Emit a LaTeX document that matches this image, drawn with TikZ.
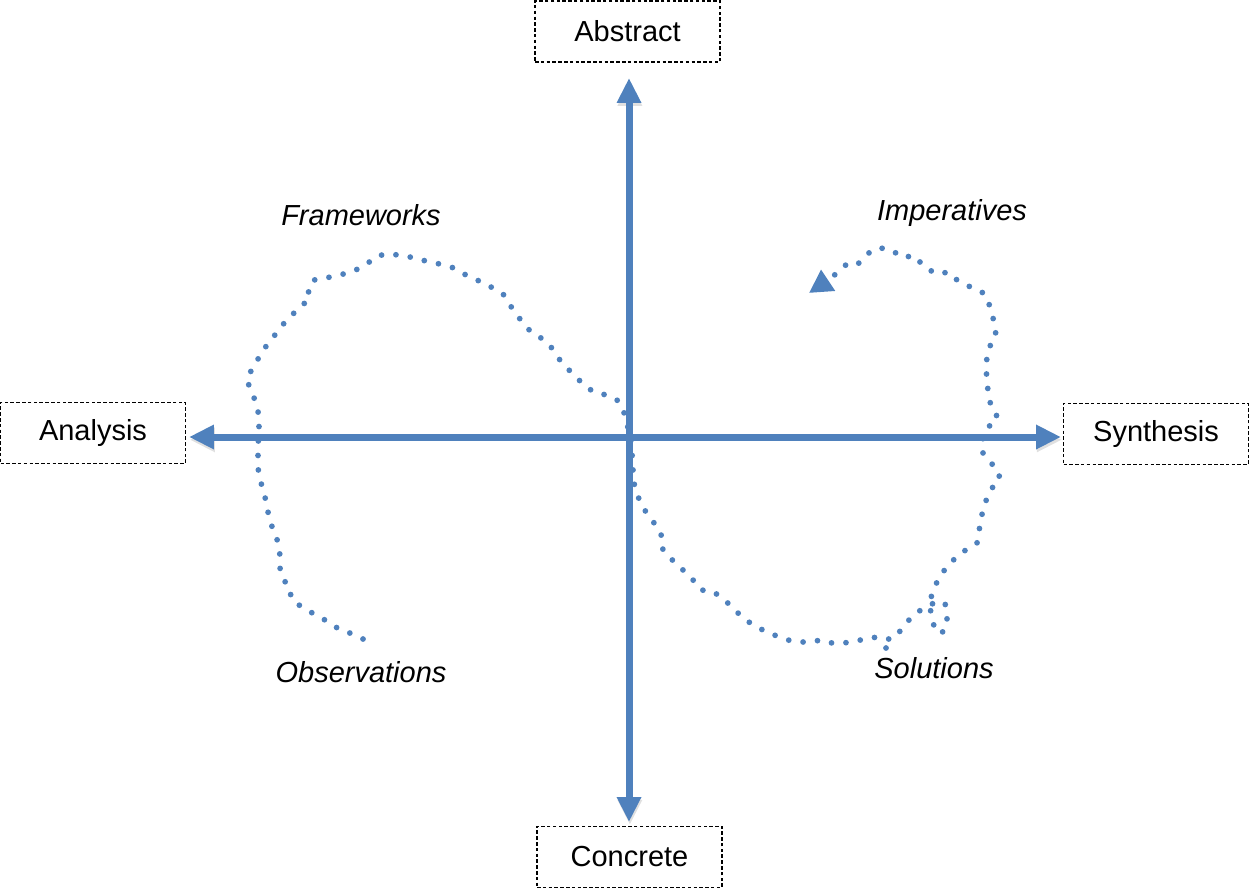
\documentclass[tikz,border=0pt]{standalone}
\usepackage{fontspec}
\setmainfont{Liberation Sans}
\usetikzlibrary{arrows.meta}
\definecolor{axisblue}{HTML}{4F81BD}
\tikzset{
  axisbox/.style={draw=black, line width=0.6pt, dash pattern=on 2pt off 1.3pt,
    minimum width=3.7cm, minimum height=1.22cm, inner sep=0pt,
    font=\fontsize{16.5}{19}\selectfont},
  axisline/.style={draw=axisblue, line width=0.14cm,
    {Triangle[length=0.5cm,width=0.46cm]}-{Triangle[length=0.5cm,width=0.46cm]},
    preaction={draw=black!35, opacity=0.35, transform canvas={xshift=0.5pt,yshift=-1.6pt}}},
  phase/.style={font=\fontsize{16.5}{19}\selectfont\itshape, inner sep=0pt},
  loopline/.style={draw=axisblue, line width=0.115cm, line cap=round,
    dash pattern=on 0pt off 0.29cm, -{Triangle[length=0.46cm,width=0.48cm]}},
}
\begin{document}
\begin{tikzpicture}[x=0.02cm, y=-0.02cm]
\useasboundingbox (0,0) rectangle (1250,889);
% axis boxes
\node[axisbox] (abs) at (627.5,31.5) {Abstract};
\node[axisbox] (con) at (629.5,857) {Concrete};
\node[axisbox] (ana) at (93,433) {Analysis};
\node[axisbox] (syn) at (1156,434) {Synthesis};
% axes
\coordinate (vt) at (629,78);
\coordinate (vb) at (629,822);
\coordinate (hl) at (189,437);
\coordinate (hr) at (1061,437);
\draw[axisline] (vb) -- (vt);
\draw[axisline] (hl) -- (hr);
% phase labels
\node[phase] (fw) at (361,215) {Frameworks};
\node[phase] (imp) at (952,213) {Imperatives};
\node[phase] (obs) at (361,672) {Observations};
\node[phase] (sol) at (934,668) {Solutions};
% the dotted loop
\coordinate (pstart) at (363,639);
\coordinate (pend) at (809,293);
\draw[loopline] (pstart) -- plot coordinates {
(353,634) (340,630) (329,622) (319,617) (309,611) (299,605) (291,598) (290,588)
(283,579) (280,568) (280,557) (279,545) (275,534) (271,524) (268,512) (266,501)
(263,490) (260,479) (258,468) (258,456) (258,445) (259,433) (259,422) (258,411)
(255,400) (250,389) (247,379) (252,369) (258,359) (264,349) (271,340) (278,331)
(285,322) (293,314) (301,306) (310,299) (308,289) (314,280) (325,278) (336,276)
(347,273) (358,269) (368,263) (377,256) (387,254) (399,255) (410,257) (421,260)
(432,262) (443,265) (454,268) (464,274) (475,279) (485,284) (495,289) (504,295)
(510,305) (516,314) (524,324) (531,332) (541,338) (549,344) (555,353) (562,363)
(570,371) (578,379) (586,387) (596,393) (607,395) (617,400) (623,409) (626,420)
(629,432) (631,443) (632,454) (633,465) (633,477) (635,488) (639,499) (644,509)
(651,519) (658,528) (662,537) (662,548) (669,557) (678,565) (686,573) (694,581)
(701,590) (712,591) (721,597) (730,605) (738,613) (747,621) (756,626) (766,632)
(777,636) (788,640) (799,642) (810,642) (821,640) (832,643) (844,643) (855,641)
(866,639) (877,637) (885,639) (893,639) (901,630) (908,621) (916,613) (926,607)
(936,602) (945,603) (947,614) (947,626) (941,634) (934,626) (931,615) (930,604)
(932,593) (937,582) (943,572) (950,563) (958,556) (967,549) (977,543) (979,531)
(981,520) (983,509) (987,498) (992,488) (1000,480) (998,470) (990,462) (983,453)
(982,441) (986,431) (993,421) (998,417) (994,413) (990,402) (988,391) (987,380)
(986,368) (987,357) (990,346) (996,337) (995,326) (992,314) (989,304) (984,293)
(977,291) (967,285) (957,280) (948,272) (939,274) (929,270) (920,262) (912,255)
(905,258) (896,253) (885,248) (874,249) (865,256) (858,264) (848,263) (839,271)
(830,279)} -- (pend);
\fill[axisblue] (886,648) circle (0.0575cm);
\end{tikzpicture}
\end{document}
